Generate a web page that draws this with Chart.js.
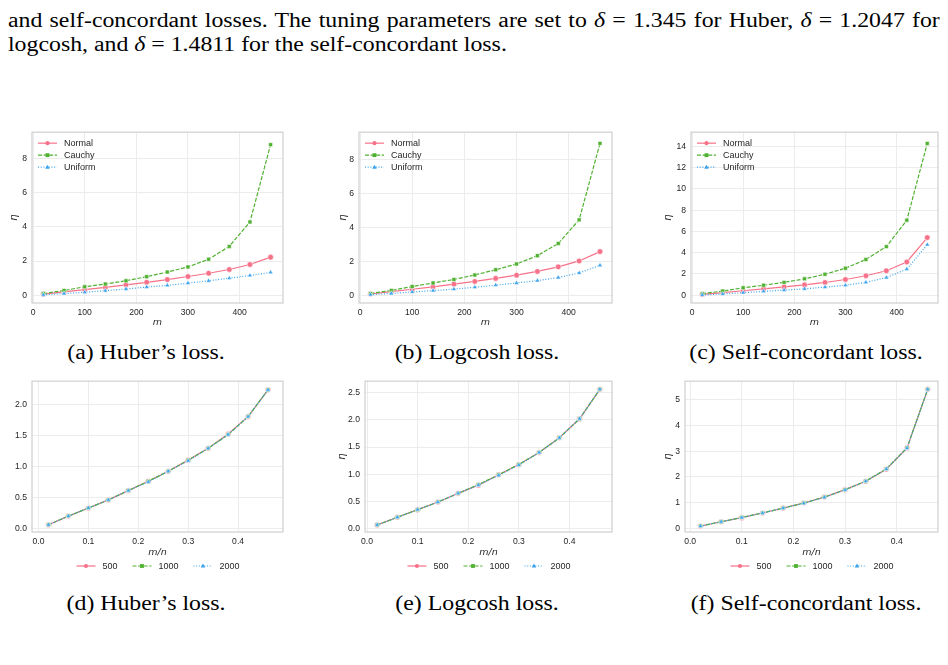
<!DOCTYPE html>
<html>
<head>
<meta charset="utf-8">
<script src="https://cdn.jsdelivr.net/npm/chart.js@4.4.1/dist/chart.umd.min.js"></script>
<style>
  body { margin: 0; width: 948px; height: 665px; overflow: hidden; background: #fff; position: relative; font-family: "Liberation Serif", "DejaVu Serif", serif; color: #000; }
  .line { position: absolute; left: 8px; width: 783px; font-size: 20px; line-height: 24px; white-space: nowrap; transform: scaleX(1.19); transform-origin: 0 0; }
  .just { text-align: justify; text-align-last: justify; white-space: normal; }
  .cap { position: absolute; font-size: 20px; line-height: 24px; white-space: nowrap; transform: translateX(-50%) scaleX(1.19); }
  .panel { position: absolute; }
</style>
</head>
<body>

<div class="line just" style="top:8px">and self-concordant losses. The tuning parameters are set to <i>δ</i> = 1.345 for Huber, <i>δ</i> = 1.2047 for</div>
<div class="line" style="top:32px">logcosh, and <i>δ</i> = 1.4811 for the self-concordant loss.</div>

<div class="panel" id="pa"><canvas id="chartA"></canvas></div>
<div class="panel" id="pb"><canvas id="chartB"></canvas></div>
<div class="panel" id="pc"><canvas id="chartC"></canvas></div>
<div class="panel" id="pd"><canvas id="chartD"></canvas></div>
<div class="panel" id="pe"><canvas id="chartE"></canvas></div>
<div class="panel" id="pf"><canvas id="chartF"></canvas></div>

<div class="cap" style="left:146px;top:340px">(a) Huber’s loss.</div>
<div class="cap" style="left:477px;top:340px">(b) Logcosh loss.</div>
<div class="cap" style="left:806px;top:340px">(c) Self-concordant loss.</div>
<div class="cap" style="left:146px;top:591px">(d) Huber’s loss.</div>
<div class="cap" style="left:477px;top:591px">(e) Logcosh loss.</div>
<div class="cap" style="left:806px;top:591px">(f) Self-concordant loss.</div>

<script>
// x values
const mValues = [20, 60, 100, 140, 180, 220, 260, 300, 340, 380, 420, 460];
const ratioValues = [0.02, 0.06, 0.10, 0.14, 0.18, 0.22, 0.26, 0.30, 0.34, 0.38, 0.42, 0.46];

// tick labels
const mTicks = [0, 100, 200, 300, 400];
const ratioTicks = [0.0, 0.1, 0.2, 0.3, 0.4];
const etaTicksHuber = [0, 2, 4, 6, 8];
const etaTicksLogcosh = [0, 2, 4, 6, 8];
const etaTicksSC = [0, 2, 4, 6, 8, 10, 12, 14];
const etaTicksHuberRatio = [0.0, 0.5, 1.0, 1.5, 2.0];
const etaTicksLogcoshRatio = [0.0, 0.5, 1.0, 1.5, 2.0, 2.5];
const etaTicksSCRatio = [0, 1, 2, 3, 4, 5];

const distLabels = ['Normal', 'Cauchy', 'Uniform'];
const sizeLabels = ['500', '1000', '2000'];

// (a) Huber, eta vs m
const huberNormal  = [0.07, 0.20, 0.33, 0.46, 0.61, 0.76, 0.92, 1.10, 1.29, 1.51, 1.80, 2.23];
const huberCauchy  = [0.10, 0.28, 0.50, 0.66, 0.85, 1.09, 1.36, 1.66, 2.11, 2.86, 4.29, 8.81];
const huberUniform = [0.03, 0.10, 0.18, 0.27, 0.37, 0.48, 0.58, 0.71, 0.85, 1.00, 1.16, 1.34];

// (b) Logcosh
const logcoshNormal  = [0.07, 0.21, 0.35, 0.49, 0.65, 0.81, 0.99, 1.18, 1.40, 1.67, 2.02, 2.57];
const logcoshCauchy  = [0.10, 0.28, 0.51, 0.72, 0.93, 1.19, 1.50, 1.84, 2.33, 3.05, 4.44, 8.95];
const logcoshUniform = [0.03, 0.10, 0.19, 0.27, 0.36, 0.47, 0.59, 0.72, 0.86, 1.04, 1.31, 1.76];

// (c) Self-concordant
const scNormal  = [0.08, 0.25, 0.42, 0.60, 0.78, 0.97, 1.20, 1.48, 1.83, 2.30, 3.13, 5.42];
const scCauchy  = [0.15, 0.39, 0.70, 0.94, 1.21, 1.54, 1.97, 2.54, 3.36, 4.57, 7.05, 14.27];
const scUniform = [0.03, 0.12, 0.24, 0.36, 0.48, 0.60, 0.76, 0.94, 1.21, 1.66, 2.45, 4.75];

// (d)-(f) eta vs m/n for n = 500, 1000, 2000 (curves overlap)
const huberN500  = [0.06, 0.20, 0.33, 0.46, 0.61, 0.76, 0.92, 1.10, 1.29, 1.52, 1.80, 2.23];
const huberN1000 = [0.06, 0.20, 0.33, 0.46, 0.61, 0.76, 0.92, 1.10, 1.29, 1.51, 1.80, 2.23];
const huberN2000 = [0.06, 0.20, 0.33, 0.46, 0.61, 0.75, 0.92, 1.09, 1.29, 1.51, 1.80, 2.23];

const logcoshN500  = [0.07, 0.21, 0.35, 0.49, 0.65, 0.80, 0.99, 1.18, 1.40, 1.67, 2.02, 2.56];
const logcoshN1000 = [0.07, 0.21, 0.35, 0.49, 0.65, 0.81, 0.99, 1.18, 1.40, 1.67, 2.02, 2.56];
const logcoshN2000 = [0.07, 0.21, 0.35, 0.49, 0.65, 0.80, 0.98, 1.17, 1.40, 1.67, 2.02, 2.56];

const scN500  = [0.08, 0.25, 0.41, 0.59, 0.78, 0.98, 1.21, 1.50, 1.83, 2.30, 3.13, 5.41];
const scN1000 = [0.08, 0.25, 0.42, 0.59, 0.78, 0.98, 1.21, 1.50, 1.83, 2.31, 3.13, 5.41];
const scN2000 = [0.08, 0.25, 0.41, 0.59, 0.78, 0.97, 1.20, 1.49, 1.83, 2.30, 3.12, 5.41];

// styles
const seriesColors = ['#f77189', '#50b131', '#3ba3ec'];
const seriesDashes = [[], [4, 1.6], [1, 1.7]];
const seriesMarkers = ['circle', 'rect', 'triangle'];
const tickFont = { family: 'Liberation Sans', size: 8.6 };
const textColor = '#262626';

function drawMarker(ctx, style, x, y, r) {
  ctx.beginPath();
  if (style === 'rect') {
    ctx.rect(x - r * 0.8, y - r * 0.8, r * 1.6, r * 1.6);
  } else if (style === 'triangle') {
    ctx.moveTo(x, y - r);
    ctx.lineTo(x + r * 0.95, y + r * 0.65);
    ctx.lineTo(x - r * 0.95, y + r * 0.65);
    ctx.closePath();
  } else {
    ctx.arc(x, y, r * 0.85, 0, Math.PI * 2);
  }
  ctx.fill();
}

// frame around the plot area + seaborn-like legend
const frameLegend = {
  id: 'frameLegend',
  afterDatasetsDraw(chart, args, opts) {
    const { ctx, chartArea: a } = chart;
    ctx.save();
    ctx.strokeStyle = '#cfcfcf';
    ctx.lineWidth = 1.2;
    ctx.strokeRect(a.left, a.top, a.right - a.left, a.bottom - a.top);

    ctx.font = '9px "Liberation Sans"';
    ctx.textBaseline = 'middle';
    const ds = chart.data.datasets;
    const pos = [];
    if (opts.mode === 'inside') {
      ds.forEach((d, i) => pos.push({ x: a.left + 6, y: a.top + 11 + i * 12 }));
    } else {
      const w = ds.map(d => 25 + ctx.measureText(d.label).width);
      const total = w.reduce((s, v) => s + v, 0) + 16 * (ds.length - 1);
      let x = (a.left + a.right) / 2 - total / 2;
      ds.forEach((d, i) => { pos.push({ x: x, y: a.bottom + 34 }); x += w[i] + 16; });
    }
    ds.forEach((d, i) => {
      const p = pos[i];
      ctx.strokeStyle = d.borderColor;
      ctx.lineWidth = d.borderWidth;
      ctx.setLineDash(d.borderDash);
      ctx.beginPath();
      ctx.moveTo(p.x, p.y);
      ctx.lineTo(p.x + 19, p.y);
      ctx.stroke();
      ctx.setLineDash([]);
      ctx.fillStyle = d.borderColor;
      drawMarker(ctx, d.pointStyle, p.x + 9.5, p.y, 2.4);
      ctx.fillStyle = textColor;
      ctx.fillText(d.label, p.x + 26, p.y + 0.5);
    });
    ctx.restore();
  }
};

function makePanel(divId, canvasId, spec) {
  const padTop = 4, padRight = 6;
  const div = document.getElementById(divId);
  div.style.left = (spec.frame.l - spec.yw) + 'px';
  div.style.top = (spec.frame.t - padTop) + 'px';
  div.style.width = (spec.frame.r - spec.frame.l + spec.yw + padRight) + 'px';
  div.style.height = (spec.frame.b - spec.frame.t + padTop + spec.xh + spec.pb) + 'px';

  // later series drawn on top, as in the seaborn figure
  const datasets = spec.series.map((vals, i) => ({
    label: spec.labels[i],
    data: vals.map((v, j) => ({ x: spec.xs[j], y: v })),
    order: -i,
    borderColor: seriesColors[i],
    backgroundColor: seriesColors[i],
    borderWidth: 1.2,
    borderDash: seriesDashes[i],
    pointStyle: seriesMarkers[i],
    pointRadius: 2.8,
    pointBackgroundColor: seriesColors[i],
    pointBorderColor: 'rgba(255,255,255,0.9)',
    pointBorderWidth: 0.6,
    tension: 0
  }));

  return new Chart(document.getElementById(canvasId), {
    type: 'line',
    data: { datasets: datasets },
    options: {
      responsive: true,
      maintainAspectRatio: false,
      animation: false,
      layout: { padding: { top: padTop, right: padRight, bottom: spec.pb, left: 0 } },
      plugins: {
        legend: { display: false },
        tooltip: { enabled: false },
        frameLegend: { mode: spec.legend }
      },
      scales: {
        x: {
          type: 'linear',
          min: spec.xLim[0],
          max: spec.xLim[1],
          afterBuildTicks: s => { s.ticks = spec.xTicks.map(v => ({ value: v })); },
          afterFit: s => { s.height = spec.xh; },
          ticks: {
            callback: v => v.toFixed(spec.xDec),
            font: tickFont, color: textColor, padding: 4,
            maxRotation: 0, autoSkip: false
          },
          grid: { color: '#ececec', lineWidth: 1, drawTicks: false },
          border: { display: false },
          title: {
            display: true, text: spec.xTitle, color: textColor,
            font: { family: 'DejaVu Sans', style: 'italic', size: 9.5 },
            padding: { top: 0, bottom: 4 }
          }
        },
        y: {
          type: 'linear',
          min: spec.yLim[0],
          max: spec.yLim[1],
          afterBuildTicks: s => { s.ticks = spec.yTicks.map(v => ({ value: v })); },
          afterFit: s => { s.width = spec.yw; },
          ticks: {
            callback: v => v.toFixed(spec.yDec),
            font: tickFont, color: textColor, padding: 5, autoSkip: false
          },
          grid: { color: '#ececec', lineWidth: 1, drawTicks: false },
          border: { display: false },
          title: {
            display: spec.yTitle, text: 'η', color: textColor,
            font: { family: 'DejaVu Sans', style: 'italic', size: 10 },
            padding: { top: 4, bottom: 0 }
          }
        }
      }
    },
    plugins: [frameLegend]
  });
}

const topRow = { t: 126, b: 303 };
const botRow = { t: 375, b: 532 };

makePanel('pa', 'chartA', {
  frame: { l: 32, r: 283, t: topRow.t, b: topRow.b }, yw: 28, xh: 29, pb: 0,
  xs: mValues, series: [huberNormal, huberCauchy, huberUniform], labels: distLabels,
  xLim: [-2, 484], xTicks: mTicks, xDec: 0, xTitle: 'm',
  yLim: [-0.45, 9.54], yTicks: etaTicksHuber, yDec: 0, yTitle: true, legend: 'inside'
});
makePanel('pb', 'chartB', {
  frame: { l: 359, r: 612, t: topRow.t, b: topRow.b }, yw: 26, xh: 29, pb: 0,
  xs: mValues, series: [logcoshNormal, logcoshCauchy, logcoshUniform], labels: distLabels,
  xLim: [-2, 483], xTicks: mTicks, xDec: 0, xTitle: 'm',
  yLim: [-0.46, 9.61], yTicks: etaTicksLogcosh, yDec: 0, yTitle: true, legend: 'inside'
});
makePanel('pc', 'chartC', {
  frame: { l: 691, r: 938, t: topRow.t, b: topRow.b }, yw: 33, xh: 29, pb: 0,
  xs: mValues, series: [scNormal, scCauchy, scUniform], labels: distLabels,
  xLim: [-2, 481], xTicks: mTicks, xDec: 0, xTitle: 'm',
  yLim: [-0.73, 15.33], yTicks: etaTicksSC, yDec: 0, yTitle: true, legend: 'inside'
});
makePanel('pd', 'chartD', {
  frame: { l: 32, r: 283, t: botRow.t, b: botRow.b }, yw: 40, xh: 30, pb: 16,
  xs: ratioValues, series: [huberN500, huberN1000, huberN2000], labels: sizeLabels,
  xLim: [-0.013, 0.49], xTicks: ratioTicks, xDec: 1, xTitle: 'm/n',
  yLim: [-0.056, 2.37], yTicks: etaTicksHuberRatio, yDec: 1, yTitle: false, legend: 'below'
});
makePanel('pe', 'chartE', {
  frame: { l: 365, r: 612, t: botRow.t, b: botRow.b }, yw: 33, xh: 30, pb: 16,
  xs: ratioValues, series: [logcoshN500, logcoshN1000, logcoshN2000], labels: sizeLabels,
  xLim: [-0.004, 0.484], xTicks: ratioTicks, xDec: 1, xTitle: 'm/n',
  yLim: [-0.06, 2.71], yTicks: etaTicksLogcoshRatio, yDec: 1, yTitle: true, legend: 'below'
});
makePanel('pf', 'chartF', {
  frame: { l: 685, r: 938, t: botRow.t, b: botRow.b }, yw: 27, xh: 30, pb: 16,
  xs: ratioValues, series: [scN500, scN1000, scN2000], labels: sizeLabels,
  xLim: [-0.01, 0.48], xTicks: ratioTicks, xDec: 1, xTitle: 'm/n',
  yLim: [-0.15, 5.73], yTicks: etaTicksSCRatio, yDec: 0, yTitle: true, legend: 'below'
});
</script>
</body>
</html>
